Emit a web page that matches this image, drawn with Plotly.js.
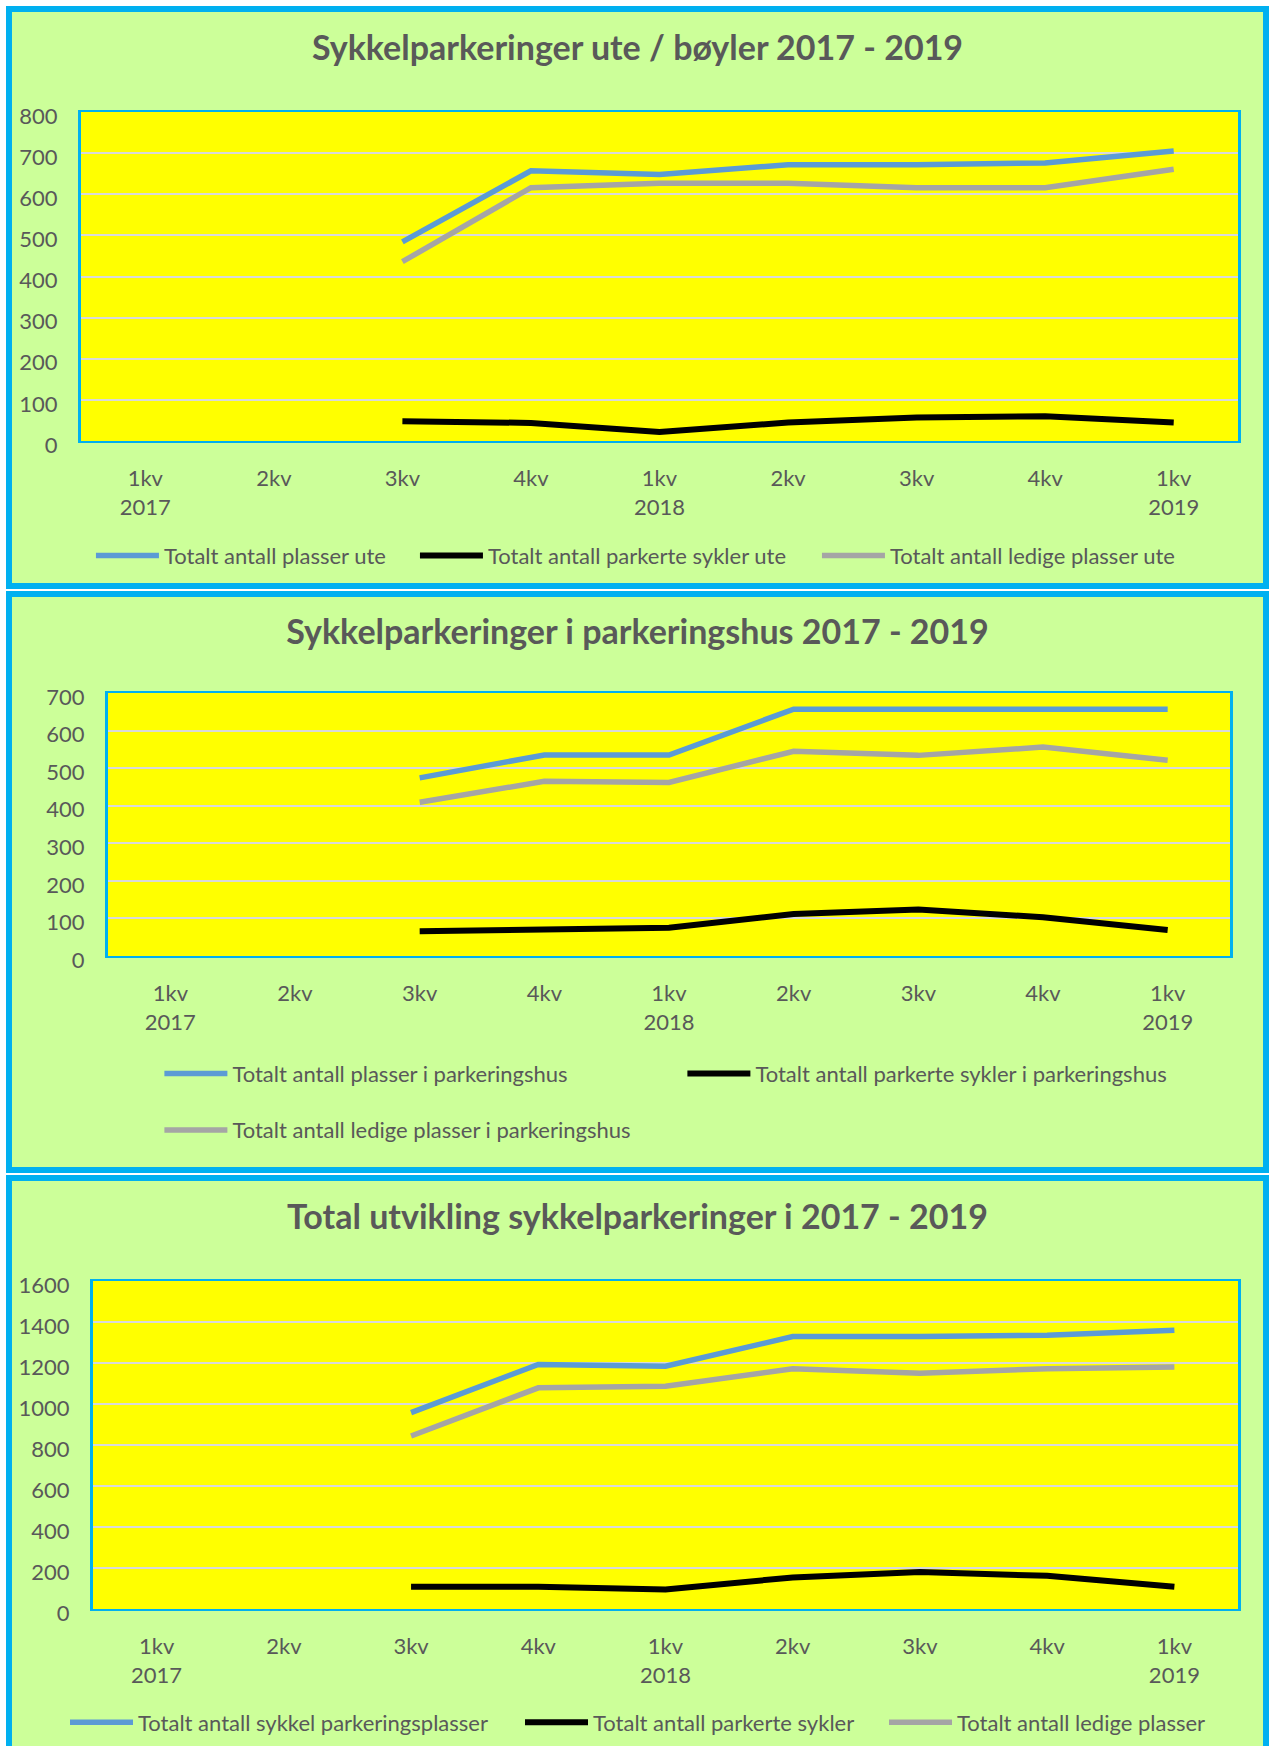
<!DOCTYPE html>
<html>
<head>
<meta charset="utf-8">
<script src="https://cdn.plot.ly/plotly-3.0.1.min.js"></script>
<style>
  html, body { margin: 0; padding: 0; background: #ffffff; width: 1269px; height: 1746px; overflow: hidden; }
  .panel { position: absolute; box-sizing: border-box; border: 6px solid #00B0F0; background: #CCFF99; left: 6px; width: 1263px; }
  .plot { width: 1251px; }
</style>
</head>
<body>
<div class="panel" style="top:6px;height:583px;"><div id="c1" class="plot" style="height:571px;"></div></div>
<div class="panel" style="top:591px;height:582px;"><div id="c2" class="plot" style="height:570px;"></div></div>
<div class="panel" style="top:1175px;height:583px;"><div id="c3" class="plot" style="height:571px;"></div></div>
<script>
// ---- shared axis labels ----
var quarters = ["1kv", "2kv", "3kv", "4kv", "1kv", "2kv", "3kv", "4kv", "1kv"];
var years    = ["2017", "", "", "", "2018", "", "", "", "2019"];

// ---- Chart 1: outdoor racks ----
var title1 = "Sykkelparkeringer ute / bøyler 2017 - 2019";
var names1 = ["Totalt antall plasser ute", "Totalt antall parkerte sykler ute", "Totalt antall ledige plasser ute"];
var ute_plasser  = [null, null, 484, 657, 648, 672, 672, 676, 705];
var ute_parkerte = [null, null, 48, 44, 22, 45, 57, 60, 45];
var ute_ledige   = [null, null, 436, 616, 627, 627, 616, 616, 661];

// ---- Chart 2: parking garages ----
var title2 = "Sykkelparkeringer i parkeringshus 2017 - 2019";
var names2 = ["Totalt antall plasser i parkeringshus", "Totalt antall parkerte sykler i parkeringshus", "Totalt antall ledige plasser i parkeringshus"];
var hus_plasser  = [null, null, 474, 535, 535, 657, 657, 657, 657];
var hus_parkerte = [null, null, 66, 70, 75, 112, 124, 103, 69];
var hus_ledige   = [null, null, 409, 465, 462, 545, 534, 556, 521];

// ---- Chart 3: total ----
var title3 = "Total utvikling sykkelparkeringer i 2017 - 2019";
var names3 = ["Totalt antall sykkel parkeringsplasser", "Totalt antall parkerte sykler", "Totalt antall ledige plasser"];
var tot_plasser  = [null, null, 958, 1193, 1184, 1329, 1329, 1335, 1360];
var tot_parkerte = [null, null, 109, 109, 95, 154, 180, 162, 109];
var tot_ledige   = [null, null, 844, 1079, 1087, 1172, 1150, 1172, 1181];

// ---- build ----
var FONT = "Lato, 'Open Sans', sans-serif";
var TXT = "#595959";
var FS = 22;
var COLORS = ["#5B9BD5", "#000000", "#A5A5A5"];
var WIDTHS = [5.5, 6, 5.5];
var xIdx = quarters.map(function (q, i) { return i; });
var tickText = quarters.map(function (q, i) { return years[i] ? q + "<br>" + years[i] : q; });

function traces(series, names, legendIds, lwidths) {
  return series.map(function (s, k) {
    var t = {
      type: "scatter", mode: "lines", x: xIdx, y: s, name: names[k],
      line: { color: COLORS[k], width: WIDTHS[k] },
      connectgaps: false, hoverinfo: "skip",
      legend: legendIds[k]
    };
    if (lwidths[k]) t.legendwidth = lwidths[k];
    return t;
  });
}

function legendCfg(x, y) {
  return {
    orientation: "h", x: x, y: y, xanchor: "left", yanchor: "middle",
    font: { family: FONT, size: FS, color: TXT },
    bgcolor: "rgba(0,0,0,0)", borderwidth: 0, itemwidth: 63,
    itemclick: false, itemdoubleclick: false
  };
}

function layout(title, ymax, dtick, m, titleY) {
  return {
    width: 1251, height: m.h,
    margin: { l: m.l, r: m.r, t: m.t, b: m.b, pad: 0, autoexpand: false },
    paper_bgcolor: "#CCFF99", plot_bgcolor: "#FFFF00",
    font: { family: FONT, size: FS, color: TXT },
    title: {
      text: title, xref: "container", x: 0.5, xanchor: "center",
      yref: "container", y: titleY, yanchor: "middle",
      font: { family: FONT, size: 34, color: TXT, weight: 700 }
    },
    xaxis: {
      range: [-0.5, 8.5], tickmode: "array", tickvals: xIdx, ticktext: tickText,
      showgrid: false, zeroline: false, ticks: "", ticklabelstandoff: 17,
      showline: true, mirror: true, linecolor: "#00B0F0", linewidth: 2,
      tickfont: { family: FONT, size: FS, color: TXT }, fixedrange: true
    },
    yaxis: {
      range: [0, ymax], dtick: dtick, tick0: 0,
      showgrid: true, gridcolor: "#D9D9D9", gridwidth: 2, zeroline: false,
      ticks: "", ticklabelstandoff: 16, ticklabelshift: 4,
      showline: true, mirror: true, linecolor: "#00B0F0", linewidth: 3,
      tickfont: { family: FONT, size: FS, color: TXT }, fixedrange: true
    },
    showlegend: true
  };
}

var cfg = { displayModeBar: false, staticPlot: true };

// chart 1
var L1 = layout(title1, 800, 100, { h: 571, l: 69, r: 25, t: 100, b: 142 }, 1 - 36 / 571);
L1.legend = legendCfg(0.0086, -0.349);
Plotly.newPlot("c1", traces([ute_plasser, ute_parkerte, ute_ledige], names1, ["legend", "legend", "legend"], [246, 324, 0]), L1, cfg);

// chart 2
var L2 = layout(title2, 700, 100, { h: 570, l: 96, r: 33, t: 96, b: 211 }, 1 - 35.5 / 570);
L2.legend = legendCfg(0.0458, -0.448);
L2.legend2 = legendCfg(0.0458, -0.662);
Plotly.newPlot("c2", traces([hus_plasser, hus_parkerte, hus_ledige], names2, ["legend", "legend", "legend2"], [445, 0, 0]), L2, cfg);

// chart 3
var L3 = layout(title3, 1600, 200, { h: 571, l: 81, r: 25, t: 100, b: 143 }, 1 - 36 / 571);
L3.legend = legendCfg(-0.02445, -0.346);
Plotly.newPlot("c3", traces([tot_plasser, tot_parkerte, tot_ledige], names3, ["legend", "legend", "legend"], [377, 286, 0]), L3, cfg);
</script>
</body>
</html>
